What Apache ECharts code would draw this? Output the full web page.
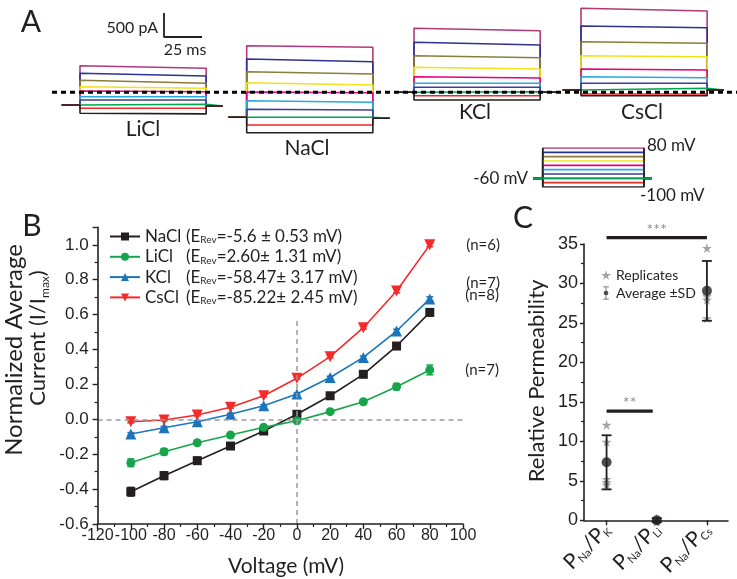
<!DOCTYPE html>
<html><head><meta charset="utf-8">
<script src="https://cdn.jsdelivr.net/npm/echarts@6/dist/echarts.min.js"></script>
<style>html,body{margin:0;padding:0;background:#fff}
#c,#ov{position:absolute;left:0;top:0;width:737px;height:579px}
#ov{pointer-events:none}</style>
</head><body><div id="c"></div><div id="ov"></div>
<script>
// ---------------- Panel A data (current traces, pA) ----------------
const stepVoltages = [80, 60, 40, 20, 0, -20, -40, -60, -80, -100];
const liclStart = [554, 396, 250, 117, 27, -92, -160, -250, -333, -437];
const liclEnd   = [500, 340, 187, 83, 12, -92, -160, -250, -333, -450];
const liclHold  = [-265, -285];
const naclStart = [969, 694, 429, 200, 6, -175, -354, -521, -681, -842];
const naclEnd   = [937, 637, 381, 152, -8, -208, -369, -521, -681, -842];
const naclHold  = [-521, -542];
const kclStart  = [1333, 1042, 762, 521, 325, 187, 104, 12, -71, -160];
const kclEnd    = [1283, 985, 721, 485, 298, 187, 104, 12, -71, -160];
const kclHold   = [0, 0];
const csclStart = [1750, 1381, 1054, 762, 485, 325, 187, 83, -35, -71];
const csclEnd   = [1694, 1346, 1021, 742, 464, 304, 187, 83, -35, -71];
const csclHold  = [48, 48];
const holdingMV = -60;
const scaleBarPA = 500, scaleBarMS = 25;

// ---------------- Panel B data ----------------
const voltages = [-100, -80, -60, -40, -20, 0, 20, 40, 60, 80];
const naclI   = [-0.415, -0.323, -0.237, -0.153, -0.067, 0.029, 0.135, 0.258, 0.42, 0.613];
const naclErr = [0.025, 0.022, 0.018, 0.01, 0.008, 0.006, 0.008, 0.01, 0.015, 0.02];
const liclI   = [-0.249, -0.186, -0.134, -0.09, -0.046, -0.008, 0.044, 0.101, 0.187, 0.283];
const liclErr = [0.022, 0.018, 0.01, 0.008, 0.006, 0.005, 0.008, 0.01, 0.018, 0.028];
const kclI    = [-0.084, -0.048, -0.014, 0.029, 0.078, 0.145, 0.24, 0.355, 0.506, 0.69];
const kclErr  = [0.008, 0.007, 0.006, 0.006, 0.006, 0.006, 0.007, 0.008, 0.01, 0.012];
const csclI   = [-0.014, -0.004, 0.025, 0.069, 0.135, 0.235, 0.359, 0.525, 0.735, 1.0];
const csclErr = [0.006, 0.005, 0.005, 0.005, 0.006, 0.006, 0.007, 0.008, 0.01, 0.01];
const saltNames = ['NaCl', 'LiCl', 'KCl', 'CsCl'];
const erevTexts = ['=-5.6 \u00b1 0.53 mV)', '=2.60\u00b1 1.31 mV)', '=-58.47\u00b1 3.17 mV)', '=-85.22\u00b1 2.45 mV)'];
const nLabels = ['(n=8)', '(n=7)', '(n=7)', '(n=6)'];

// ---------------- Panel C data ----------------
const ratioPositions = [0, 1, 2];
const ratioIons = ['K', 'Li', 'Cs'];
const ratioMean = [7.97, 0.8, 29.2];
const ratioSD = [3.35, 0.25, 3.7];
const replK  = [12.6, 10.5, 5.9, 5.5, 5.2];
const replLi = [1.0, 0.8, 0.7, 0.6];
const replCs = [34.5, 28.5, 28.1, 25.8];
const sigBars = [[0, 2, 35.8, '***'], [0, 0.92, 14.3, '**']];

// ---------------- styles / layout ----------------
const INK = '#231f20';
const traceColors = ['#b03a78', '#2e3192', '#8b7d3a', '#f3e21a', '#e6007e', '#27aae1', '#3b3f9a', '#00a651', '#ee2a2a', '#231f20'];
const saltColors = ['#231f20', '#17a54b', '#1c75bc', '#f52a2a'];
const TXT = 'Lato';
const PX_MS = 1.52, PX_PA = 0.048, ZERO_Y = 92.3, PA_MIN = -900, PA_MAX = 1900;
const PRE = 12, PULSE = 83, POST = 11;
const B_GRID = { left: 97.6, top: 227.4, width: 365.4, height: 296.6 };
const C_GRID = { left: 584, top: 244, width: 144, height: 282.7 };
const B_X = { type: 'value', min: -120, max: 100, interval: 20 };
const B_Y = { type: 'value', min: -0.6, max: 1.1, interval: 0.2 };
const C_X = { type: 'value', min: -0.45, max: 2.42 };
const C_Y = { type: 'value', min: 0, max: 35, interval: 5 };

const grid = [], xAxis = [], yAxis = [], series = [];
function addGrid(g, xa, ya) {
  grid.push(g);
  const i = grid.length - 1;
  xAxis.push(Object.assign({ gridIndex: i }, xa));
  yAxis.push(Object.assign({ gridIndex: i }, ya));
  return i;
}
const hiddenAx = (min, max) => ({ type: 'value', min, max, show: false });

function addCluster(pulseLeft, starts, ends, hold) {
  const gi = addGrid({ left: pulseLeft - PRE * PX_MS, top: ZERO_Y - PA_MAX * PX_PA,
    width: (PRE + PULSE + POST) * PX_MS, height: (PA_MAX - PA_MIN) * PX_PA },
    hiddenAx(0, PRE + PULSE + POST), hiddenAx(PA_MIN, PA_MAX));
  starts.forEach((s, k) => {
    series.push({ type: 'line', xAxisIndex: gi, yAxisIndex: gi, showSymbol: false, silent: true,
      data: [[0, hold[0]], [PRE, hold[0]], [PRE, s], [PRE + PULSE, ends[k]], [PRE + PULSE, hold[1]], [PRE + PULSE + POST, hold[1]]],
      lineStyle: { color: traceColors[k], width: 1.6 }, itemStyle: { color: traceColors[k] }, z: 2 });
  });
}
addCluster(80, liclStart, liclEnd, liclHold);
addCluster(246.7, naclStart, naclEnd, naclHold);
addCluster(414, kclStart, kclEnd, kclHold);
addCluster(581, csclStart, csclEnd, csclHold);

{
  const gi = addGrid({ left: 52, top: ZERO_Y - 10, width: 685, height: 20 }, hiddenAx(0, 1), hiddenAx(-1, 1));
  series.push({ type: 'line', xAxisIndex: gi, yAxisIndex: gi, showSymbol: false, silent: true, z: 5,
    data: [[0, 0], [1, 0]], lineStyle: { color: '#000', width: 3, type: [5, 4] } });
}
{
  const gi = addGrid({ left: 164, top: 13, width: scaleBarMS * PX_MS, height: scaleBarPA * PX_PA },
    hiddenAx(0, scaleBarMS), hiddenAx(0, scaleBarPA));
  series.push({ type: 'line', xAxisIndex: gi, yAxisIndex: gi, showSymbol: false, silent: true,
    data: [[0, scaleBarPA], [0, 0], [scaleBarMS, 0]], lineStyle: { color: INK, width: 1.8 } });
}
{
  const pPre = 8, pPulse = 83, pPost = 6.5;
  const vmax = Math.max(...stepVoltages), vmin = Math.min(...stepVoltages);
  const gi = addGrid({ left: 533, top: 148, width: 119, height: 39 },
    hiddenAx(0, pPre + pPulse + pPost), hiddenAx(vmin, vmax));
  stepVoltages.forEach((v, k) => {
    series.push({ type: 'line', xAxisIndex: gi, yAxisIndex: gi, showSymbol: false, silent: true,
      data: [[0, holdingMV], [pPre, holdingMV], [pPre, v], [pPre + pPulse, v], [pPre + pPulse, holdingMV], [pPre + pPulse + pPost, holdingMV]],
      lineStyle: { color: traceColors[k], width: 1.7 }, z: 2 });
  });
  [pPre, pPre + pPulse].forEach(t => series.push({ type: 'line', xAxisIndex: gi, yAxisIndex: gi, showSymbol: false, silent: true,
    data: [[t, vmin], [t, vmax]], lineStyle: { color: INK, width: 1.6 }, z: 3 }));
  series.push({ type: 'line', xAxisIndex: gi, yAxisIndex: gi, showSymbol: false, silent: true,
    data: [[0, holdingMV], [pPre + pPulse + pPost, holdingMV]], lineStyle: { color: '#00a651', width: 1.7 }, z: 3 });
}

// ---------------- Panel B (data layer; visible axes drawn by overlay chart) ----------------
const bGi = addGrid(Object.assign({}, B_GRID), Object.assign({ show: false }, B_X), Object.assign({ show: false }, B_Y));
const bData = [naclI, liclI, kclI, csclI];
const bErr = [naclErr, liclErr, kclErr, csclErr];
const bSymbols = ['rect', 'circle', 'triangle', 'triangle'];
const bSymRot = [0, 0, 0, 180];
const bSymSize = [9, 9, 11, 11];
const nOffsets = [[0, -17], [0, 0], [0, -16], [0, 0]];
saltNames.forEach((name, s) => {
  const color = saltColors[s];
  series.push({
    type: 'custom', xAxisIndex: bGi, yAxisIndex: bGi, silent: true, z: 3,
    data: voltages.map((v, i) => [v, bData[s][i], bErr[s][i]]),
    encode: { x: 0, y: 1 },
    renderItem: (params, api) => {
      const x = api.value(0), y = api.value(1), e = api.value(2);
      const t = api.coord([x, y + e]), b = api.coord([x, y - e]);
      const hw = 3.5, st = { stroke: color, lineWidth: 1.5 };
      return { type: 'group', children: [
        { type: 'line', shape: { x1: t[0], y1: t[1], x2: b[0], y2: b[1] }, style: st },
        { type: 'line', shape: { x1: t[0] - hw, y1: t[1], x2: t[0] + hw, y2: t[1] }, style: st },
        { type: 'line', shape: { x1: b[0] - hw, y1: b[1], x2: b[0] + hw, y2: b[1] }, style: st }
      ] };
    }
  });
  series.push({
    name, type: 'line', xAxisIndex: bGi, yAxisIndex: bGi, z: 4,
    data: voltages.map((v, i) => [v, bData[s][i]]),
    symbol: bSymbols[s], symbolRotate: bSymRot[s], symbolSize: bSymSize[s], showAllSymbol: true,
    lineStyle: { color, width: 1.6 }, itemStyle: { color },
    label: { show: true, position: 'right', distance: 31, offset: nOffsets[s],
      formatter: p => p.dataIndex === voltages.length - 1 ? nLabels[s] : '',
      fontFamily: TXT, fontSize: 15, color: INK },
    markLine: s === 0 ? { silent: true, symbol: 'none', label: { show: false },
      lineStyle: { color: '#9a9a9a', width: 1.5, type: [5, 4] },
      data: [{ yAxis: 0 }, [{ coord: [0, -0.6] }, { coord: [0, 0.58] }]] } : undefined
  });
});

// ---------------- Panel C (data layer) ----------------
const cGi = addGrid(Object.assign({}, C_GRID), Object.assign({ show: false }, C_X), Object.assign({ show: false }, C_Y));
const STAR = 'path://M50,0 L61,35 L98,35 L68,57 L79,91 L50,70 L21,91 L32,57 L2,35 L39,35 Z';
const EBAR = 'path://M20,0 L80,0 L80,8 L54,8 L54,45 L68,50 L76,70 L68,90 L54,95 L54,132 L80,132 L80,140 L20,140 L20,132 L46,132 L46,95 L32,90 L24,70 L32,50 L46,45 L46,8 L20,8 Z';
const replAll = [replK, replLi, replCs];
series.push({ name: 'Replicates', type: 'scatter', xAxisIndex: cGi, yAxisIndex: cGi, symbol: STAR, symbolSize: 10, z: 2,
  itemStyle: { color: '#8c8c8c' },
  data: replAll.flatMap((arr, i) => arr.map(v => [ratioPositions[i], v])) });
series.push({ type: 'custom', xAxisIndex: cGi, yAxisIndex: cGi, silent: true, z: 3,
  data: ratioPositions.map((p, i) => [p, ratioMean[i], ratioSD[i]]), encode: { x: 0, y: 1 },
  renderItem: (params, api) => {
    const x = api.value(0), y = api.value(1), e = api.value(2);
    const t = api.coord([x, y + e]), b = api.coord([x, y - e]);
    const hw = 5, st = { stroke: INK, lineWidth: 1.8 };
    return { type: 'group', children: [
      { type: 'line', shape: { x1: t[0], y1: t[1], x2: b[0], y2: b[1] }, style: st },
      { type: 'line', shape: { x1: t[0] - hw, y1: t[1], x2: t[0] + hw, y2: t[1] }, style: st },
      { type: 'line', shape: { x1: b[0] - hw, y1: b[1], x2: b[0] + hw, y2: b[1] }, style: st }
    ] };
  } });
series.push({ name: 'Average \u00b1SD', type: 'scatter', xAxisIndex: cGi, yAxisIndex: cGi, symbol: 'circle', symbolSize: 10, z: 4,
  itemStyle: { color: INK }, data: ratioPositions.map((p, i) => [p, ratioMean[i]]) });
sigBars.forEach(([x0, x1, y, txt]) => {
  series.push({ type: 'line', xAxisIndex: cGi, yAxisIndex: cGi, showSymbol: false, silent: true, clip: false,
    data: [[x0, y], [x1, y]], lineStyle: { color: INK, width: 3.2 } });
  series.push({ type: 'scatter', xAxisIndex: cGi, yAxisIndex: cGi, symbolSize: 0, silent: true, clip: false,
    data: [[(x0 + x1) / 2, y]],
    label: { show: true, position: 'top', distance: 0, formatter: txt, fontFamily: TXT, fontSize: 16, color: '#707070' } });
});

const T = (text, x, y, size, align, extra) => Object.assign({ type: 'text', x, y,
  style: { text, fontFamily: TXT, fontSize: size, fill: INK, align: align || 'center', verticalAlign: 'middle' } }, extra || {});

const option = {
  animation: false,
  backgroundColor: '#fff',
  grid, xAxis, yAxis, series,
  legend: [
    { data: saltNames, orient: 'vertical', left: 104, top: 223, itemWidth: 30, itemHeight: 10, itemGap: 3.3,
      selectedMode: false,
      formatter: name => { const i = saltNames.indexOf(name); return '{n|' + name + '}{t|(E}{s|Rev}{t|' + erevTexts[i] + '}'; },
      textStyle: { rich: {
        n: { fontFamily: TXT, fontSize: 17, color: INK, width: 41 },
        t: { fontFamily: TXT, fontSize: 17, color: INK },
        s: { fontFamily: TXT, fontSize: 10, color: INK, verticalAlign: 'bottom', lineHeight: 6 } } } },
    { data: [{ name: 'Replicates', icon: STAR, itemStyle: { color: '#8c8c8c' } }, { name: 'Average \u00b1SD', icon: EBAR, itemStyle: { color: INK } }],
      orient: 'vertical', left: 596, top: 263, itemWidth: 10, itemHeight: 13, itemGap: 4, selectedMode: false,
      textStyle: { fontFamily: TXT, fontSize: 14, color: INK } }
  ],
  graphic: [
    T('A', 31, 22, 30), T('B', 32, 226, 30), T('C', 523, 218, 30),
    T('500 pA', 158, 28, 16, 'right'), T('25 ms', 185, 50, 16),
    T('LiCl', 143, 129, 21), T('NaCl', 307, 148, 21), T('KCl', 475, 112, 21), T('CsCl', 642, 112, 21),
    T('80 mV', 647, 146, 17, 'left'), T('-60 mV', 528, 179, 17, 'right'), T('-100 mV', 640, 196, 17, 'left'),
    T('Voltage (mV)', 286, 566, 21),
    T('Normalized Average', 14, 350, 24, 'center', { rotation: Math.PI / 2 }),
    { type: 'text', x: 38, y: 338, rotation: Math.PI / 2, style: { text: '{m|Current (I/I}{s|max}{m|)}', align: 'center', verticalAlign: 'middle',
        rich: { m: { fontFamily: TXT, fontSize: 22, fill: INK, lineHeight: 26 }, s: { fontFamily: TXT, fontSize: 12, fill: INK, verticalAlign: 'bottom', lineHeight: 6 } } } },
    T('Relative Permeability', 537, 381, 22, 'center', { rotation: Math.PI / 2 })
  ]
};
const chart = echarts.init(document.getElementById('c'), null, { renderer: 'canvas' });
chart.setOption(option);

// ---------------- Axis layer for panels B and C ----------------
const tickFont = () => ({ fontFamily: 'Liberation Sans', fontSize: 16, color: INK });
const axLine = () => ({ show: true, onZero: false, lineStyle: { color: INK, width: 1.6 } });
const majTick = len => ({ show: true, length: len, lineStyle: { color: INK, width: 1.4 } });
const minTick = () => ({ show: true, splitNumber: 2, length: 3, lineStyle: { color: INK, width: 1.2 } });
const axisOption = {
  animation: false,
  grid: [Object.assign({}, B_GRID), Object.assign({}, C_GRID)],
  xAxis: [
    Object.assign({ gridIndex: 0, axisLine: axLine(), axisTick: majTick(5), minorTick: minTick(), splitLine: { show: false },
      axisLabel: Object.assign(tickFont(), { margin: 4, showMinLabel: true, showMaxLabel: true }) }, B_X),
    Object.assign({ gridIndex: 1, axisLine: axLine(), splitLine: { show: false },
      axisTick: Object.assign(majTick(5), { customValues: ratioPositions }),
      axisLabel: { customValues: ratioPositions, rotate: 45, margin: 6,
        formatter: v => '{p|P}{s|Na}{p|/P}{s|' + (ratioIons[Math.round(v)] || '') + '}',
        rich: { p: { fontFamily: TXT, fontSize: 21, color: INK, lineHeight: 22 },
                s: { fontFamily: TXT, fontSize: 11, color: INK, verticalAlign: 'bottom', lineHeight: 6 } } } }, C_X)
  ],
  yAxis: [
    Object.assign({ gridIndex: 0, axisLine: axLine(), axisTick: majTick(5), minorTick: minTick(), splitLine: { show: false },
      axisLabel: Object.assign(tickFont(), { fontSize: 17, margin: 9, formatter: v => (v > 1.05 ? '' : v.toFixed(1)) }) }, B_Y),
    Object.assign({ gridIndex: 1, axisLine: axLine(), axisTick: majTick(4), minorTick: minTick(), splitLine: { show: false },
      axisLabel: Object.assign(tickFont(), { margin: 6, fontSize: 18 }) }, C_Y)
  ],
  series: []
};
const axisChart = echarts.init(document.getElementById('ov'), null, { renderer: 'canvas' });
axisChart.setOption(axisOption);
</script></body></html>
